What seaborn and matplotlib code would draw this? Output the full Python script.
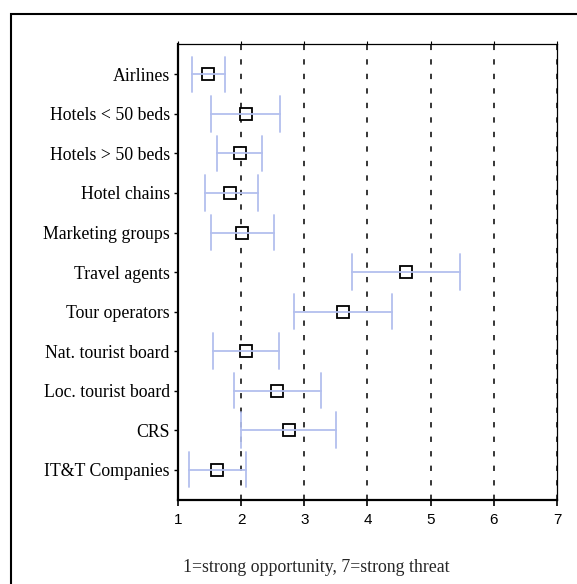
import pandas as pd
import matplotlib.pyplot as plt
import matplotlib.patches as mpatches
import seaborn as sns

# data
groups = ["Airlines", "Hotels < 50 beds", "Hotels > 50 beds", "Hotel chains",
          "Marketing groups", "Travel agents", "Tour operators",
          "Nat. tourist board", "Loc. tourist board", "CRS", "IT&T Companies"]
means = [1.47, 2.08, 1.98, 1.83, 2.02, 4.61, 3.62, 2.08, 2.57, 2.76, 1.62]
lows = [1.22, 1.52, 1.62, 1.43, 1.52, 3.76, 2.83, 1.56, 1.88, 2.00, 1.17]
highs = [1.74, 2.61, 2.33, 2.26, 2.52, 5.46, 4.39, 2.60, 3.26, 3.50, 2.08]
xticks = [1, 2, 3, 4, 5, 6, 7]
grid_x = [2, 3, 4, 5, 6, 7]

# long table: low / mean / high per group -> median + full range interval
rows = []
for g, lo, m, hi in zip(groups, lows, means, highs):
    for v in (lo, m, hi):
        rows.append({"group": g, "value": v})
df = pd.DataFrame(rows)

sns.set_style("white")
fig = plt.figure(figsize=(5.77, 5.84), dpi=100)
ax = fig.add_axes([0.3085, 0.1438, 0.6568, 0.7808])

# outer frame
fig.patches.append(mpatches.Rectangle((0.019, -0.05), 1.2, 1.026, transform=fig.transFigure,
                                      fill=False, edgecolor="black", linewidth=1.5))

for xv in grid_x:
    ax.axvline(xv, color="black", linewidth=1.1, linestyle=(0, (3.5, 6.0)), zorder=1)

sns.pointplot(data=df, x="value", y="group", order=groups, estimator="median",
              errorbar=("pi", 100), linestyle="none", marker="s", markersize=8.5,
              markerfacecolor="white", markeredgecolor="black", markeredgewidth=1.3,
              color="#b3bfee", err_kws={"linewidth": 1.3}, capsize=0.9, ax=ax)

ax.set_xlim(1, 7)
ax.set_ylim(10.77, -0.77)
ax.set_xticks(xticks)
ax.set_xticklabels([str(t) for t in xticks], fontfamily="Liberation Sans", fontsize=11)
for lab in ax.get_yticklabels():
    lab.set_fontfamily("Liberation Serif")
    lab.set_fontsize(12.8)
ax.set_xlabel("")
ax.set_ylabel("")

for side in ["left", "bottom"]:
    ax.spines[side].set_linewidth(1.6)
for side in ["top", "right"]:
    ax.spines[side].set_linewidth(0.9)
    ax.spines[side].set_color("black")
ax.spines["left"].set_color("black")
ax.spines["bottom"].set_color("black")

ax.tick_params(axis="y", left=True, length=3, width=1, pad=3, colors="black")
ax.tick_params(axis="x", bottom=True, top=True, length=4, width=1.2, pad=5, colors="black")
for t in ax.xaxis.get_major_ticks():
    t.tick2line.set_markersize(2)
    t.tick2line.set_markeredgewidth(0.8)

fig.text(0.548, 0.029, "1=strong opportunity, 7=strong threat", ha="center", va="center",
         fontfamily="Liberation Serif", fontsize=12.8)

fig.savefig("out.png", dpi=100)
